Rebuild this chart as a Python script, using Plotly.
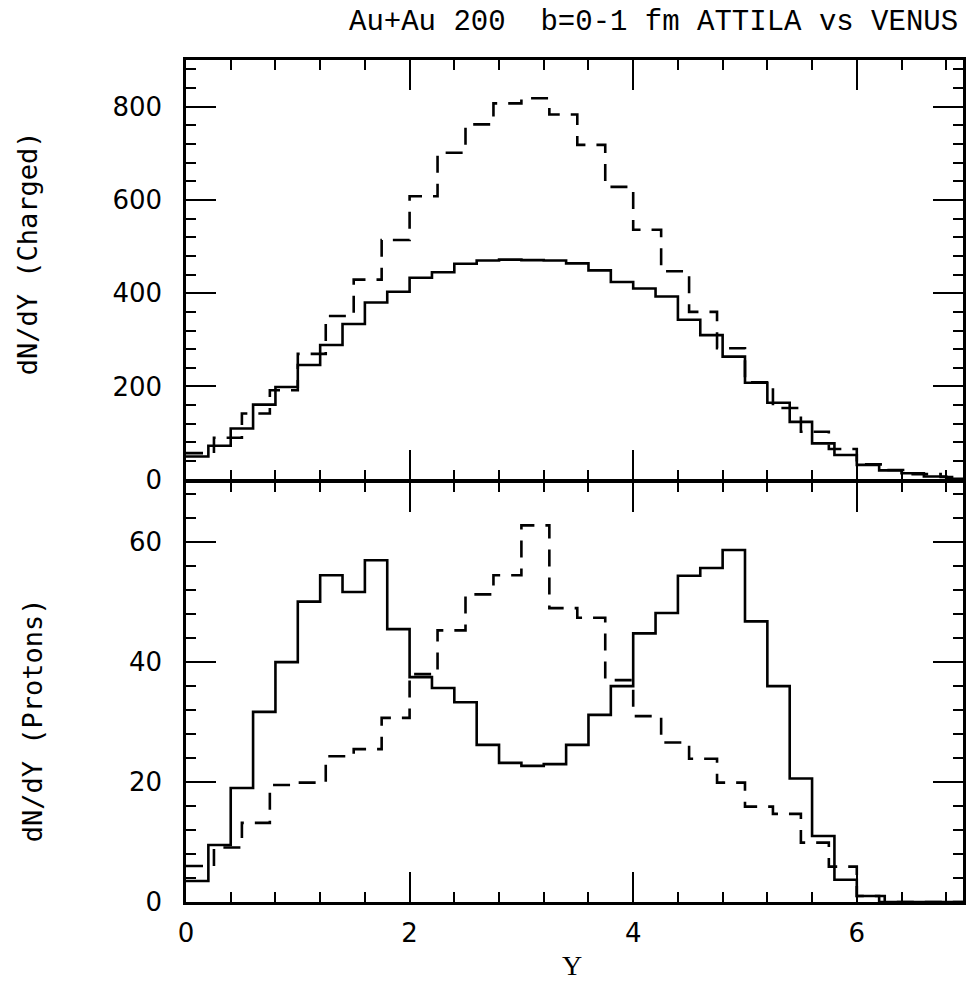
import numpy as np
import plotly.graph_objects as go
from plotly.subplots import make_subplots

# ---- data ----
bin_width_solid = 0.2
bin_width_dashed = 0.25

charged_solid = [50, 73, 110, 161, 199, 246, 289, 334, 380, 403, 433, 445, 463, 470, 472,
                 471, 470, 464, 449, 424, 410, 393, 343, 310, 264, 208, 165, 124, 78, 53,
                 32, 20, 14, 7, 2]
charged_dashed = [57, 90, 142, 192, 270, 351, 429, 514, 608, 701, 762, 807, 818, 783,
                  718, 628, 536, 447, 360, 282, 209, 154, 103, 66, 33, 21, 12, 6]
protons_solid = [3.5, 9.5, 19, 31.7, 40, 50.1, 54.5, 51.7, 57, 45.5, 37.5, 35.7, 33.3,
                 26.2, 23.2, 22.7, 23, 26.2, 31.2, 36, 44.8, 48.2, 54.4, 55.7, 58.7, 46.8,
                 36, 20.6, 11, 3.7, 1.0, 0, 0, 0, 0]
protons_dashed = [6.0, 9.1, 13.2, 19.5, 19.9, 24.3, 25.5, 30.7, 38, 45.3, 51.3, 54.5, 62.8,
                  49, 47.4, 37, 31, 26.6, 23.9, 19.9, 15.9, 14.7, 9.9, 5.9, 1.0, 0, 0, 0]

x_ticks = [0, 2, 4, 6]
charged_ticks = [0, 200, 400, 600, 800]
proton_ticks = [0, 20, 40, 60]

title_text = "Au+Au 200  b=0-1 fm ATTILA vs VENUS"


def step_xy(values, width):
    edges = np.arange(len(values) + 1) * width
    ys = list(values) + [values[-1]]
    return edges, ys


LW = 2.5
fig = make_subplots(rows=2, cols=1, shared_xaxes=True, vertical_spacing=LW / 842)

solid_line = dict(color="black", width=2.6, shape="hv")
dash_line = dict(color="black", width=2.6, shape="hv", dash="17px,11px")

for vals, w, ln, name, row in [
    (charged_solid, bin_width_solid, solid_line, "ATTILA", 1),
    (charged_dashed, bin_width_dashed, dash_line, "VENUS", 1),
    (protons_solid, bin_width_solid, solid_line, "ATTILA", 2),
    (protons_dashed, bin_width_dashed, dash_line, "VENUS", 2),
]:
    xs, ys = step_xy(vals, w)
    fig.add_trace(go.Scatter(x=xs, y=ys, mode="lines", line=ln, name=name,
                             showlegend=False, hoverinfo="skip"), row=row, col=1)

tickfont = dict(family="DejaVu Sans", size=26, color="black")
common_axis = dict(showgrid=False, zeroline=False, showline=True, linecolor="black",
                   linewidth=LW, mirror="allticks", ticks="inside", ticklen=30,
                   tickwidth=2, tickcolor="black", tickfont=tickfont)

xr = [0, 6.95]
fig.update_xaxes(**common_axis, range=xr, tickmode="array", tickvals=x_ticks,
                 minor=dict(dtick=0.4, tick0=0, ticklen=10, tickwidth=2,
                            tickcolor="black", ticks="inside"))
fig.update_xaxes(showticklabels=False, row=1, col=1)
fig.update_xaxes(showticklabels=True, ticklabelstandoff=6, row=2, col=1)

fig.update_yaxes(**common_axis)
fig.update_yaxes(range=[0, 900], tickmode="array", tickvals=charged_ticks,
                 ticklabelstandoff=16,
                 minor=dict(dtick=40, tick0=0, ticklen=10, tickwidth=2,
                            tickcolor="black", ticks="inside"), row=1, col=1)
fig.update_yaxes(range=[0, 70], tickmode="array", tickvals=proton_ticks,
                 ticklabelstandoff=16,
                 minor=dict(dtick=4, tick0=0, ticklen=10, tickwidth=2,
                            tickcolor="black", ticks="inside"), row=2, col=1)

mono = "DejaVu Sans Mono"
fig.update_layout(
    width=969, height=981,
    margin=dict(l=186, r=3, t=60, b=79),
    paper_bgcolor="white", plot_bgcolor="white",
    annotations=[
        dict(text=title_text, xref="paper", yref="paper", x=0.996, y=1.045,
             xanchor="right", yanchor="middle", showarrow=False,
             font=dict(family="Liberation Mono", size=29, color="black")),
        dict(text="dN/dY (Charged)", xref="paper", yref="paper", x=-0.204, y=0.771,
             xanchor="center", yanchor="middle", textangle=-90, showarrow=False,
             font=dict(family=mono, size=27, color="black")),
        dict(text="dN/dY (Protons)", xref="paper", yref="paper", x=-0.198, y=0.216,
             xanchor="center", yanchor="middle", textangle=-90, showarrow=False,
             font=dict(family=mono, size=27, color="black")),
        dict(text="Y", xref="paper", yref="paper", x=0.497, y=-0.075,
             xanchor="center", yanchor="middle", showarrow=False,
             font=dict(family="Liberation Serif", size=28, color="black")),
    ],
)

fig.write_html("out.html",
               config={"displayModeBar": False},
               post_script="document.body.style.margin='0';document.body.style.padding='0';")
